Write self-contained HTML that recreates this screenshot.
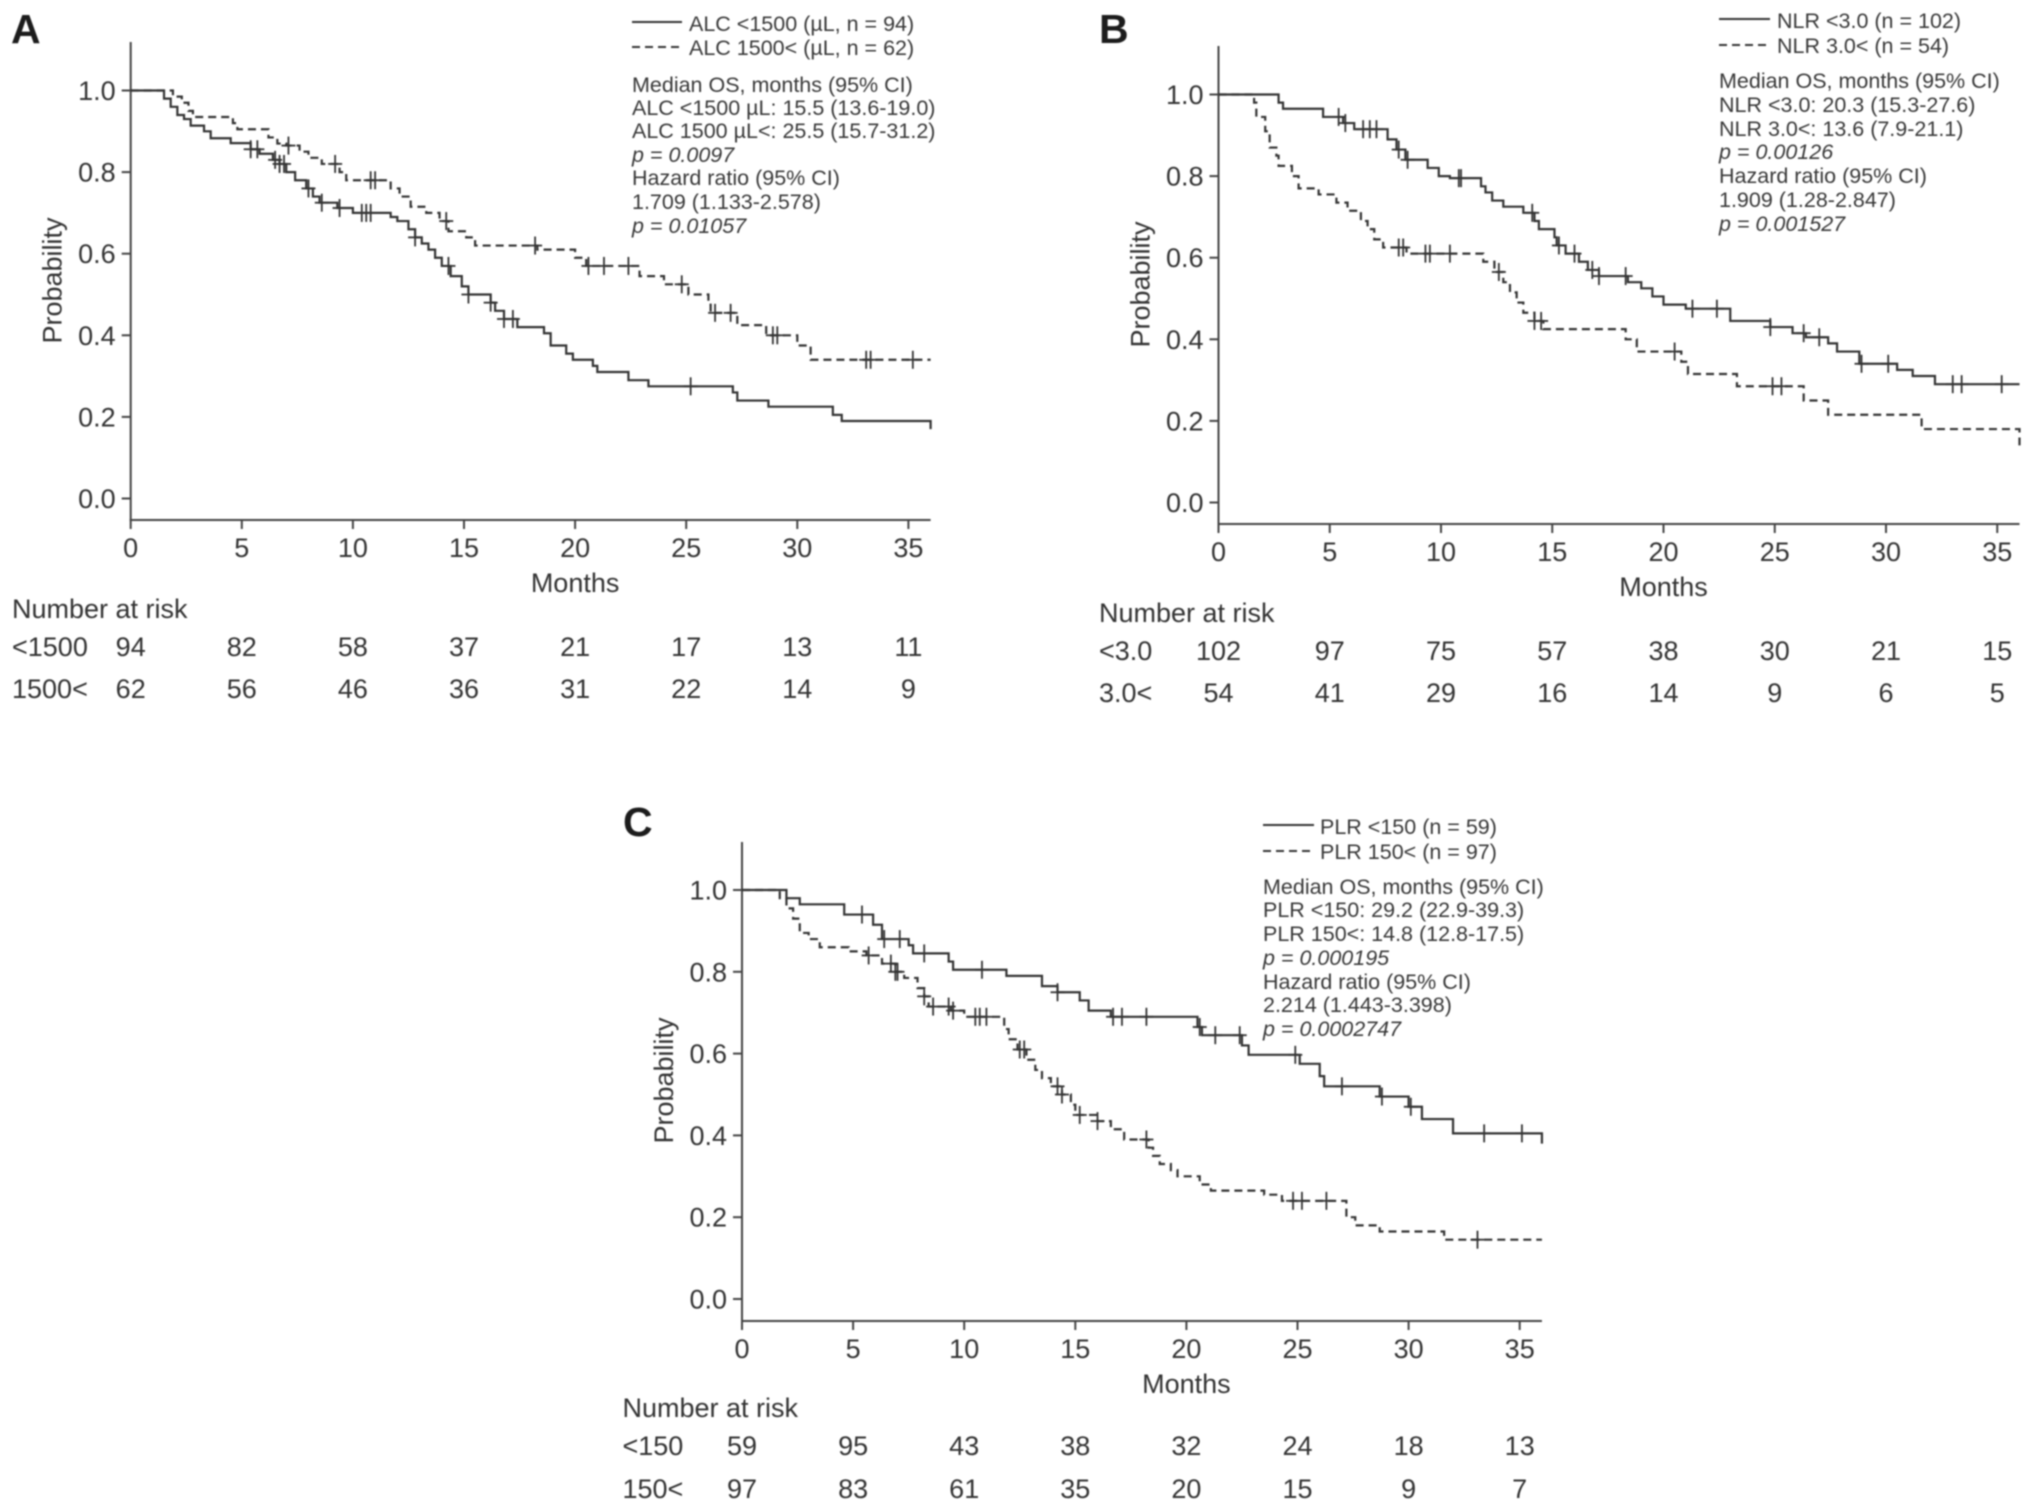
<!DOCTYPE html>
<html lang="en">
<head>
<meta charset="utf-8">
<title>Kaplan-Meier overall survival curves</title>
<style>
html,body{margin:0;padding:0;background:#fff;}
#figure{display:block;width:2031px;height:1511px;filter:blur(0.7px);font-family:"Liberation Sans",Arial,sans-serif;}
.leg{font-size:21.5px;fill:#383838;}
.legi{font-size:21.5px;fill:#383838;font-style:italic;}
.panel-letter{font-size:41px;font-weight:bold;fill:#1c1c1c;}
.lab{font-size:27px;fill:#333;}
</style>
</head>
<body>
<svg id="figure" xmlns="http://www.w3.org/2000/svg" width="2031" height="1511" viewBox="0 0 2031 1511">
<rect width="2031" height="1511" fill="#fff"/>

<g id="panel-a">
<text class="panel-letter" x="11" y="43">A</text>
<g>
<line x1="632" y1="22" x2="682" y2="22" stroke="#333" stroke-width="2"/>
<line x1="632" y1="47" x2="682" y2="47" stroke="#333" stroke-width="2" stroke-dasharray="8 5"/>
<text class="leg" x="689" y="31">ALC &lt;1500 (µL, n = 94)</text>
<text class="leg" x="689" y="55">ALC 1500&lt; (µL, n = 62)</text>
</g>
<g>
<text class="leg" x="632" y="92">Median OS, months (95% CI)</text>
<text class="leg" x="632" y="115">ALC &lt;1500 µL: 15.5 (13.6-19.0)</text>
<text class="leg" x="632" y="138">ALC 1500 µL&lt;: 25.5 (15.7-31.2)</text>
<text class="legi" x="632" y="162">p = 0.0097</text>
<text class="leg" x="632" y="185">Hazard ratio (95% CI)</text>
<text class="leg" x="632" y="209">1.709 (1.133-2.578)</text>
<text class="legi" x="632" y="233">p = 0.01057</text>
</g>
<text class="lab" x="12" y="618">Number at risk</text>
<text class="lab" x="12" y="656">&lt;1500</text>
<text class="lab" x="12" y="698">1500&lt;</text>
</g>

<g id="panel-b">
<text class="panel-letter" x="1099" y="43">B</text>
<g>
<line x1="1719" y1="19" x2="1770" y2="19" stroke="#333" stroke-width="2"/>
<line x1="1719" y1="45" x2="1770" y2="45" stroke="#333" stroke-width="2" stroke-dasharray="8 5"/>
<text class="leg" x="1777" y="28">NLR &lt;3.0 (n = 102)</text>
<text class="leg" x="1777" y="53">NLR 3.0&lt; (n = 54)</text>
</g>
<g>
<text class="leg" x="1719" y="88">Median OS, months (95% CI)</text>
<text class="leg" x="1719" y="112">NLR &lt;3.0: 20.3 (15.3-27.6)</text>
<text class="leg" x="1719" y="136">NLR 3.0&lt;: 13.6 (7.9-21.1)</text>
<text class="legi" x="1719" y="159">p = 0.00126</text>
<text class="leg" x="1719" y="183">Hazard ratio (95% CI)</text>
<text class="leg" x="1719" y="207">1.909 (1.28-2.847)</text>
<text class="legi" x="1719" y="231">p = 0.001527</text>
</g>
<text class="lab" x="1099" y="622">Number at risk</text>
<text class="lab" x="1099" y="660">&lt;3.0</text>
<text class="lab" x="1099" y="702">3.0&lt;</text>
</g>

<g id="panel-c">
<text class="panel-letter" x="623" y="836">C</text>
<g>
<line x1="1263" y1="825" x2="1314" y2="825" stroke="#333" stroke-width="2"/>
<line x1="1263" y1="851" x2="1314" y2="851" stroke="#333" stroke-width="2" stroke-dasharray="8 5"/>
<text class="leg" x="1320" y="834">PLR &lt;150 (n = 59)</text>
<text class="leg" x="1320" y="859">PLR 150&lt; (n = 97)</text>
</g>
<g>
<text class="leg" x="1263" y="894">Median OS, months (95% CI)</text>
<text class="leg" x="1263" y="917">PLR &lt;150: 29.2 (22.9-39.3)</text>
<text class="leg" x="1263" y="941">PLR 150&lt;: 14.8 (12.8-17.5)</text>
<text class="legi" x="1263" y="965">p = 0.000195</text>
<text class="leg" x="1263" y="989">Hazard ratio (95% CI)</text>
<text class="leg" x="1263" y="1012">2.214 (1.443-3.398)</text>
<text class="legi" x="1263" y="1036">p = 0.0002747</text>
</g>
<text class="lab" x="622.5" y="1417">Number at risk</text>
<text class="lab" x="622.5" y="1455">&lt;150</text>
<text class="lab" x="622.5" y="1498">150&lt;</text>
</g>
</svg>

<script>
// Shared axis ticks
const monthTicks = [0, 5, 10, 15, 20, 25, 30, 35];
const probTicks = [0.0, 0.2, 0.4, 0.6, 0.8, 1.0];

// Panel A: ALC
const aSolidTimes = [1.5,1.8,2.1,2.4,2.7,3.3,3.6,4.5,5.4,5.8,6.4,6.7,7.0,7.4,7.9,8.2,8.5,9.3,10.0,11.7,12.0,12.5,12.8,13.1,13.4,13.7,14.0,14.4,14.9,15.2,16.2,16.4,16.8,17.4,18.6,18.9,19.6,19.9,20.8,21.0,22.4,23.3,27.1,27.3,28.7,31.6,32.0,36.0];
const aSolidSurv = [0.98,0.96,0.94,0.93,0.914,0.90,0.883,0.871,0.856,0.845,0.83,0.82,0.80,0.78,0.76,0.74,0.725,0.712,0.70,0.69,0.68,0.66,0.64,0.625,0.61,0.59,0.57,0.545,0.52,0.50,0.48,0.46,0.44,0.42,0.405,0.375,0.355,0.34,0.325,0.31,0.29,0.275,0.26,0.24,0.225,0.205,0.19,0.17];
const aSolidCensor = [5.4,5.7,6.5,6.7,6.9,8.0,8.6,9.4,10.4,10.6,10.8,12.8,14.3,15.2,16.2,16.8,17.2,25.2];
const aDashTimes = [1.9,2.3,2.6,2.8,4.6,4.8,6.2,6.6,7.0,7.6,8.0,8.6,9.4,9.7,11.7,12.1,12.6,13.3,13.9,14.3,15.1,15.5,18.3,20.0,20.5,22.9,24.0,25.1,26.0,26.1,27.3,28.6,30.0,30.6];
const aDashSurv = [0.985,0.97,0.95,0.935,0.92,0.905,0.885,0.87,0.865,0.85,0.835,0.82,0.80,0.78,0.76,0.74,0.715,0.70,0.68,0.655,0.64,0.62,0.61,0.59,0.57,0.545,0.525,0.50,0.475,0.455,0.425,0.40,0.375,0.34];
const aDashCensor = [7.1,9.2,10.8,11.0,14.2,18.2,20.6,21.3,22.4,24.8,26.3,27.0,28.9,29.1,33.1,33.3,35.2];
const aRiskLow = [94,82,58,37,21,17,13,11];
const aRiskHigh = [62,56,46,36,31,22,14,9];

// Panel B: NLR
const bSolidTimes = [2.7,2.9,4.7,5.6,6.1,7.6,8.0,8.4,9.4,9.9,10.4,11.8,12.0,12.3,12.8,13.7,14.2,14.4,15.1,15.2,15.6,16.2,16.6,17.1,18.4,19.0,19.5,20.0,21.0,23.0,24.8,25.8,26.4,27.4,27.8,28.8,30.5,31.2,32.2];
const bSolidSurv = [0.98,0.965,0.945,0.93,0.915,0.89,0.865,0.84,0.82,0.80,0.795,0.775,0.76,0.74,0.725,0.71,0.69,0.67,0.65,0.63,0.61,0.59,0.57,0.555,0.54,0.525,0.505,0.485,0.475,0.445,0.43,0.415,0.405,0.39,0.37,0.34,0.325,0.31,0.29];
const bSolidCensor = [5.4,5.7,6.5,6.8,7.1,8.1,8.5,10.8,10.9,14.1,15.3,16.0,16.8,17.1,18.3,21.3,22.4,24.8,26.3,27.0,28.9,30.1,33.0,33.4,35.2];
const bDashTimes = [1.6,1.7,2.1,2.3,2.6,2.7,3.3,3.6,4.5,5.3,5.8,6.4,6.7,7.0,7.4,8.45,11.9,12.4,12.8,13.1,13.4,13.7,14.2,14.6,18.3,18.8,20.8,21.1,23.3,26.3,27.4,31.6,36.0];
const bDashSurv = [0.98,0.945,0.91,0.87,0.85,0.825,0.80,0.77,0.755,0.735,0.715,0.69,0.67,0.645,0.625,0.61,0.59,0.565,0.54,0.515,0.49,0.465,0.445,0.425,0.40,0.37,0.345,0.315,0.285,0.25,0.215,0.18,0.14];
const bDashCensor = [8.1,8.3,9.3,9.5,10.4,12.6,14.2,14.5,20.5,24.9,25.3];
const bRiskLow = [102,97,75,57,38,30,21,15];
const bRiskHigh = [54,41,29,16,14,9,6,5];

// Panel C: PLR
const cSolidTimes = [2.0,2.6,4.6,5.9,6.3,7.5,7.7,9.3,9.5,11.9,13.5,14.2,15.2,15.6,16.6,20.5,20.7,22.5,22.8,25.1,26.0,26.2,28.7,30.0,30.6,32.0,36.0];
const cSolidSurv = [0.98,0.965,0.94,0.915,0.88,0.865,0.845,0.825,0.805,0.79,0.765,0.75,0.73,0.705,0.69,0.665,0.645,0.62,0.597,0.575,0.545,0.52,0.495,0.47,0.44,0.405,0.38];
const cSolidCensor = [5.4,6.4,7.1,8.2,10.8,14.2,16.7,17.1,18.2,20.6,21.3,22.4,24.9,27.0,28.8,30.1,33.4,35.1];
const cDashTimes = [1.7,2.0,2.3,2.6,3.0,3.5,4.8,5.6,6.3,6.9,7.3,7.9,8.2,8.4,9.4,10.0,11.8,12.0,12.4,12.8,13.2,13.5,13.9,14.4,14.8,15.0,16.0,16.6,17.2,18.3,18.5,18.8,19.3,19.6,20.6,21.1,23.5,24.3,27.2,27.6,28.7,31.6];
const cDashSurv = [0.98,0.955,0.93,0.895,0.88,0.86,0.85,0.84,0.82,0.80,0.785,0.76,0.74,0.715,0.705,0.69,0.66,0.635,0.61,0.585,0.56,0.54,0.52,0.50,0.475,0.45,0.435,0.415,0.39,0.37,0.35,0.33,0.315,0.30,0.28,0.265,0.255,0.24,0.20,0.18,0.165,0.145];
const cDashCensor = [5.7,6.7,6.9,7.0,8.2,8.6,9.3,9.5,10.5,10.7,11.0,12.5,12.7,14.2,14.4,15.2,16.0,18.2,24.8,25.2,26.3,33.1];
const cRiskLow = [59,95,43,38,32,24,18,13];
const cRiskHigh = [97,83,61,35,20,15,9,7];

const SVGNS = 'http://www.w3.org/2000/svg';
const INK = '#333';

function makeEl(parent, tag, name, attrs, text) {
  const el = document.createElementNS(SVGNS, tag);
  
  
  for (const k in attrs) el.setAttribute(k, attrs[k]);
  if (text !== undefined) el.textContent = text;
  parent.appendChild(el);
  return el;
}

function survivalAt(times, surv, t) {
  let s = 1;
  for (let i = 0; i < times.length; i++) {
    if (times[i] <= t) s = surv[i];
  }
  return s;
}

function drawCurve(parent, name, x, y, times, surv, censor, dashed) {
  let d = 'M' + x(0) + ' ' + y(1);
  for (let i = 0; i < times.length; i++) {
    d += 'H' + x(times[i]).toFixed(2) + 'V' + y(surv[i]).toFixed(2);
  }
  d += 'H' + x(36);
  const attrs = { d: d, fill: 'none', stroke: INK, 'stroke-width': 2.2 };
  if (dashed) attrs['stroke-dasharray'] = '8 5';
  makeEl(parent, 'path', name + '-curve', attrs);
  censor.forEach(function (t) {
    const cx = x(t);
    const cy = y(survivalAt(times, surv, t));
    makeEl(parent, 'line', name + '-censor-tick', { x1: cx, x2: cx, y1: cy - 9, y2: cy + 9, stroke: INK, 'stroke-width': 1.8 });
    makeEl(parent, 'line', name + '-censor-bar', { x1: cx - 7, x2: cx + 7, y1: cy, y2: cy, stroke: INK, 'stroke-width': 1.8 });
  });
}

function drawPanel(groupId, frame, series, riskLow, riskHigh) {
  const g = document.getElementById(groupId);
  const x = function (m) { return frame.left + m * frame.pxPerMonth; };
  const y = function (p) { return frame.zeroY - p * frame.pxPerUnit; };
  const base = frame.baseY;

  makeEl(g, 'line', 'y-axis', { x1: frame.left, x2: frame.left, y1: frame.topY, y2: base + 1, stroke: '#444', 'stroke-width': 2 });
  makeEl(g, 'line', 'x-axis', { x1: frame.left - 1, x2: x(36), y1: base, y2: base, stroke: '#444', 'stroke-width': 2 });

  probTicks.forEach(function (p) {
    makeEl(g, 'line', 'y-tick', { x1: frame.left - 9, x2: frame.left, y1: y(p), y2: y(p), stroke: '#444', 'stroke-width': 2 });
    makeEl(g, 'text', 'y-tick-label', { x: frame.left - 15, y: y(p) + 9.5, 'text-anchor': 'end', 'class': 'lab' }, p.toFixed(1));
  });
  monthTicks.forEach(function (m, i) {
    makeEl(g, 'line', 'x-tick', { x1: x(m), x2: x(m), y1: base, y2: base + 9, stroke: '#444', 'stroke-width': 2 });
    makeEl(g, 'text', 'x-tick-label', { x: x(m), y: base + 37, 'text-anchor': 'middle', 'class': 'lab' }, String(m));
    makeEl(g, 'text', 'risk-count-low', { x: x(m), y: base + frame.row1, 'text-anchor': 'middle', 'class': 'lab' }, String(riskLow[i]));
    makeEl(g, 'text', 'risk-count-high', { x: x(m), y: base + frame.row2, 'text-anchor': 'middle', 'class': 'lab' }, String(riskHigh[i]));
  });

  makeEl(g, 'text', 'x-axis-title', { x: x(20), y: base + 72, 'text-anchor': 'middle', 'class': 'lab' }, 'Months');
  const ly = y(0.5) - 14;
  const lx = frame.left - 69;
  makeEl(g, 'text', 'y-axis-title', { x: lx, y: ly, 'text-anchor': 'middle', 'class': 'lab', transform: 'rotate(-90 ' + lx + ' ' + ly + ')' }, 'Probability');

  drawCurve(g, 'low-group', x, y, series.solidT, series.solidS, series.solidC, false);
  drawCurve(g, 'high-group', x, y, series.dashT, series.dashS, series.dashC, true);
}

drawPanel('panel-a',
  { left: 130.7, pxPerMonth: 22.22, zeroY: 498.5, pxPerUnit: 408, baseY: 520, topY: 42, row1: 136, row2: 178 },
  { solidT: aSolidTimes, solidS: aSolidSurv, solidC: aSolidCensor, dashT: aDashTimes, dashS: aDashSurv, dashC: aDashCensor },
  aRiskLow, aRiskHigh);
drawPanel('panel-b',
  { left: 1218.5, pxPerMonth: 22.25, zeroY: 502.5, pxPerUnit: 408, baseY: 524, topY: 46, row1: 136, row2: 178 },
  { solidT: bSolidTimes, solidS: bSolidSurv, solidC: bSolidCensor, dashT: bDashTimes, dashS: bDashSurv, dashC: bDashCensor },
  bRiskLow, bRiskHigh);
drawPanel('panel-c',
  { left: 742, pxPerMonth: 22.22, zeroY: 1299, pxPerUnit: 409, baseY: 1321, topY: 842, row1: 134, row2: 177 },
  { solidT: cSolidTimes, solidS: cSolidSurv, solidC: cSolidCensor, dashT: cDashTimes, dashS: cDashSurv, dashC: cDashCensor },
  cRiskLow, cRiskHigh);
</script>
</body>
</html>
